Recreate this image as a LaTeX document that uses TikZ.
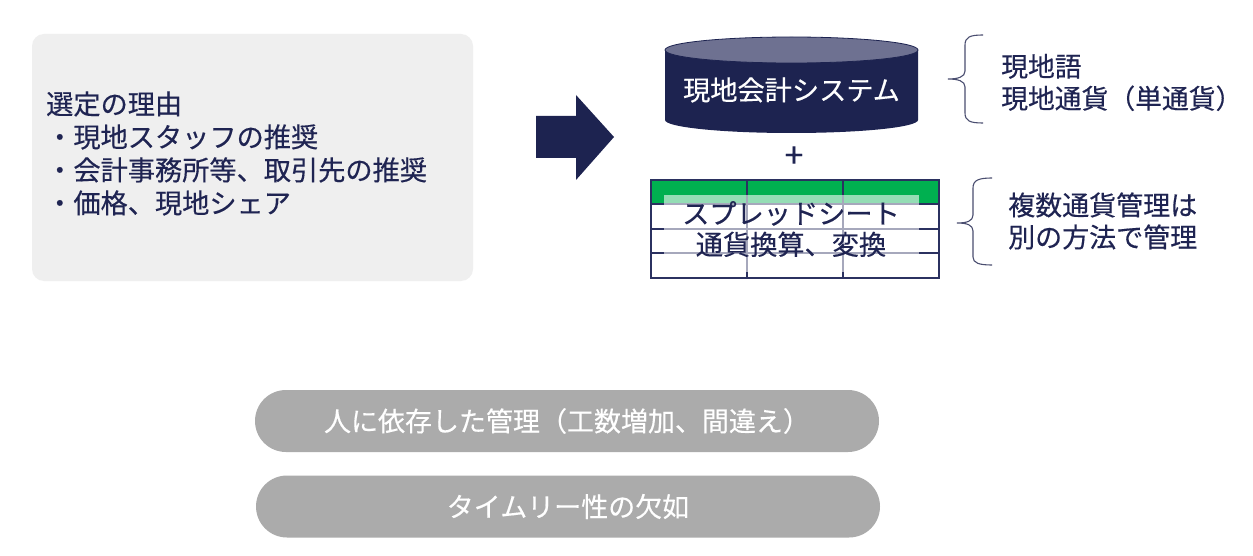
\documentclass[tikz,border=0pt]{standalone}
\usepackage{fontspec}
\setmainfont{Noto Sans CJK JP}[FakeBold=0.35]
\definecolor{navy}{HTML}{1D2350}
\definecolor{txt}{HTML}{1F2452}
\definecolor{cyltop}{HTML}{6E7191}
\definecolor{boxgray}{HTML}{EFEFEF}
\definecolor{pillgray}{HTML}{ABABAB}
\definecolor{sheetgreen}{HTML}{00B050}
\definecolor{bracec}{HTML}{4A4E70}
\definecolor{gridc}{HTML}{2B3160}
\begin{document}
\begin{tikzpicture}[x=1pt,y=-1pt,
  jtext/.style={text=txt, font=\fontsize{27.2}{33}\selectfont, inner sep=0pt},
  reasonbox/.style={fill=boxgray, rounded corners=12pt, minimum width=441pt, minimum height=247pt, inner sep=0pt},
  pill/.style={fill=pillgray, rounded corners=31pt, minimum width=624pt, minimum height=62pt, inner sep=0pt, text=white, font=\fontsize{27}{33}\selectfont},
  bracestyle/.style={draw=bracec, line width=1.1pt},
  gridline/.style={draw=gridc, line width=1.4pt}
]
\useasboundingbox (0,0) rectangle (1253,556);
\fill[white] (0,0) rectangle (1253,556);

% reasons box
\node[reasonbox] (reasons) at (252.5,157.5) {};
\node[jtext, anchor=west, align=left] (reasontext) at (46,153.5)
  {選定の理由\\・現地スタッフの推奨\\・会計事務所等、取引先の推奨\\・価格、現地シェア};

% block arrow
\fill[navy] (536,116) -- (576,116) -- (576,95) -- (614,137) -- (576,180) -- (576,158) -- (536,158) -- cycle;
\coordinate (arrowtip) at (614,137);

% cylinder
\fill[navy] (665,50) -- (665,120) arc[start angle=180, end angle=0, x radius=126.5, y radius=13] -- (918,50) -- cycle;
\filldraw[fill=cyltop, draw=navy, line width=0.8pt] (791.5,50) ellipse[x radius=126.5, y radius=13];
\node[jtext, text=white, font=\fontsize{27.2}{33}\selectfont] (system) at (791.5,90) {現地会計システム};

% plus
\node[text=txt, font=\fontsize{34}{38}\selectfont, inner sep=0pt] (plus) at (794,157) {+};

% spreadsheet
\fill[sheetgreen] (651,180) rectangle (939,204);
\draw[gridline] (651,204) -- (939,204);
\draw[gridline] (651,229) -- (939,229);
\draw[gridline] (651,253) -- (939,253);
\draw[gridline] (747,180) -- (747,278);
\draw[gridline] (843,180) -- (843,278);
\draw[gridline] (651,180) rectangle (939,278);
\fill[white, opacity=0.58] (664,195) rectangle (919,272);
\node[jtext, align=center, font=\fontsize{27.2}{31}\selectfont] (sheet) at (791,229)
  {スプレッドシート\\通貨換算、変換};

% brace 1
\draw[bracestyle] (983,35) .. controls (970,35) and (965,37) .. (965,45) -- (965,71)
  .. controls (965,77) and (958,79) .. (948,79)
  .. controls (958,79) and (965,81) .. (965,87) -- (965,113)
  .. controls (965,121) and (970,123) .. (983,123);
\node[jtext, anchor=west, align=left, font=\fontsize{26.8}{32}\selectfont] (note1) at (1001,82.5)
  {現地語\\現地通貨（単通貨）};

% brace 2
\draw[bracestyle] (992,178) .. controls (979,178) and (973,180) .. (973,188) -- (973,215)
  .. controls (973,221) and (967,223) .. (957,223)
  .. controls (967,223) and (973,225) .. (973,231) -- (973,257)
  .. controls (973,263) and (979,265) .. (992,265);
\node[jtext, anchor=west, align=left, font=\fontsize{27}{32}\selectfont] (note2) at (1008,221)
  {複数通貨管理は\\別の方法で管理};

% pills
\node[pill] (issue1) at (567,421) {人に依存した管理（工数増加、間違え）};
\node[pill] (issue2) at (568,506.5) {タイムリー性の欠如};
\end{tikzpicture}
\end{document}
